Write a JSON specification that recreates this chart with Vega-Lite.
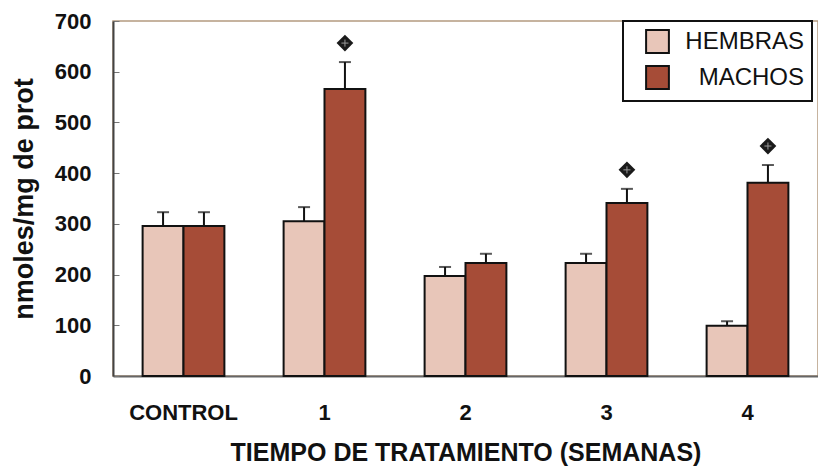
{
  "$schema": "https://vega.github.io/schema/vega-lite/v6.json",
  "width": 705,
  "height": 355,
  "autosize": {"type": "none"},
  "padding": {"left": 113, "top": 21, "right": 0, "bottom": 96},
  "background": "white",
  "config": {
    "font": "Liberation Sans",
    "view": {"stroke": "#b49a80", "strokeWidth": 1.5},
    "axis": {"grid": false, "labelFont": "Liberation Sans", "titleFont": "Liberation Sans", "labelColor": "#111", "titleColor": "#111"}
  },
  "data": {
    "values": [
      {"tiempo": "CONTROL", "sexo": "HEMBRAS", "valor": 296, "err": 323, "sig": false},
      {"tiempo": "CONTROL", "sexo": "MACHOS", "valor": 296, "err": 323, "sig": false},
      {"tiempo": "1", "sexo": "HEMBRAS", "valor": 305, "err": 333, "sig": false},
      {"tiempo": "1", "sexo": "MACHOS", "valor": 566, "err": 619, "sig": true},
      {"tiempo": "2", "sexo": "HEMBRAS", "valor": 197, "err": 215, "sig": false},
      {"tiempo": "2", "sexo": "MACHOS", "valor": 223, "err": 241, "sig": false},
      {"tiempo": "3", "sexo": "HEMBRAS", "valor": 223, "err": 241, "sig": false},
      {"tiempo": "3", "sexo": "MACHOS", "valor": 341, "err": 369, "sig": true},
      {"tiempo": "4", "sexo": "HEMBRAS", "valor": 99, "err": 108, "sig": false},
      {"tiempo": "4", "sexo": "MACHOS", "valor": 381, "err": 416, "sig": true}
    ]
  },
  "encoding": {
    "x": {
      "field": "tiempo",
      "type": "nominal",
      "sort": ["CONTROL", "1", "2", "3", "4"],
      "scale": {"paddingInner": 0.42, "paddingOuter": 0.21},
      "axis": {
        "title": "TIEMPO DE TRATAMIENTO (SEMANAS)",
        "titleFontSize": 25,
        "titleFontWeight": "bold",
        "titlePadding": 17,
        "labelFontSize": 22,
        "labelFontWeight": "bold",
        "labelAngle": 0,
        "labelPadding": 26,
        "ticks": false,
        "domainColor": "#666",
        "domainWidth": 2
      }
    },
    "xOffset": {"field": "sexo", "type": "nominal", "sort": ["HEMBRAS", "MACHOS"]}
  },
  "layer": [
    {
      "mark": {"type": "bar", "stroke": "#111", "strokeWidth": 2},
      "encoding": {
        "y": {
          "field": "valor",
          "type": "quantitative",
          "scale": {"domain": [0, 700], "nice": false},
          "axis": {
            "title": "nmoles/mg de prot",
            "titleFontSize": 27,
            "titleFontWeight": "bold",
            "titlePadding": 16,
            "values": [0, 100, 200, 300, 400, 500, 600, 700],
            "labelFontSize": 22,
            "labelFontWeight": "bold",
            "tickSize": -6,
            "tickColor": "#777",
            "labelPadding": 28,
            "domainColor": "#444",
            "domainWidth": 2
          }
        },
        "fill": {
          "field": "sexo",
          "type": "nominal",
          "scale": {"domain": ["HEMBRAS", "MACHOS"], "range": ["#e8c6b9", "#a64c37"]},
          "legend": {
            "title": null,
            "orient": "none",
            "legendX": 510,
            "legendY": 0,
            "strokeColor": "#111",
            "fillColor": "white",
            "padding": 8,
            "symbolType": "square",
            "symbolSize": 520,
            "symbolStrokeColor": "#111",
            "symbolStrokeWidth": 2,
            "symbolOffset": 14,
            "labelFontSize": 24,
            "labelFont": "Liberation Sans",
            "labelColor": "#111",
            "labelAlign": "right",
            "labelOffset": 134,
            "rowPadding": 5,
            "encode": {"legend": {"update": {"strokeWidth": {"value": 2}}}}
          }
        }
      }
    },
    {
      "mark": {"type": "rule", "color": "#111", "strokeWidth": 2},
      "encoding": {
        "y": {"field": "valor", "type": "quantitative"},
        "y2": {"field": "err"}
      }
    },
    {
      "mark": {"type": "tick", "color": "#111", "thickness": 2, "size": 12},
      "encoding": {
        "y": {"field": "err", "type": "quantitative"}
      }
    },
    {
      "transform": [{"filter": "datum.sig"}],
      "mark": {"type": "point", "shape": "diamond", "filled": true, "color": "#1a1a1a", "size": 280, "yOffset": -19, "opacity": 1},
      "encoding": {
        "y": {"field": "err", "type": "quantitative"}
      }
    },
    {
      "transform": [{"filter": "datum.sig"}],
      "mark": {"type": "point", "shape": "M-0.5,0L0.5,0M0,-0.5L0,0.5", "filled": false, "stroke": "#9a9a9a", "strokeWidth": 1, "size": 200, "yOffset": -19, "opacity": 1},
      "encoding": {
        "y": {"field": "err", "type": "quantitative"}
      }
    }
  ]
}
